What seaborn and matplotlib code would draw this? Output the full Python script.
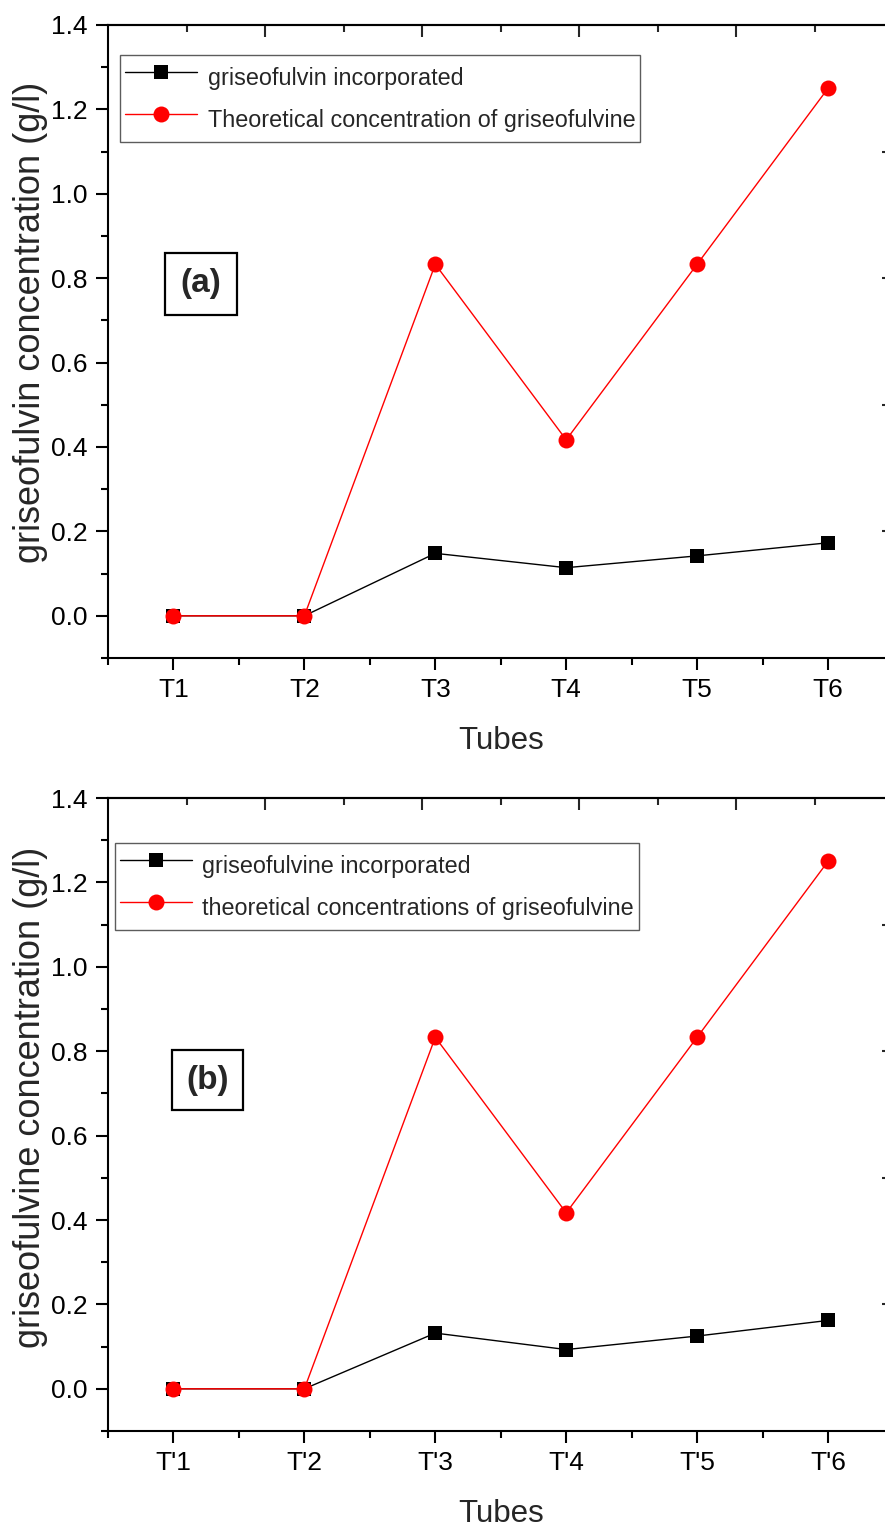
import numpy as np
import pandas as pd
import matplotlib
matplotlib.use("Agg")
import matplotlib.pyplot as plt
from matplotlib.ticker import MultipleLocator, FixedLocator, NullFormatter
from matplotlib.patches import Rectangle
import seaborn as sns

# ---------------- data ----------------
tubes_a = ["T1", "T2", "T3", "T4", "T5", "T6"]
incorporated_a = [0.0, 0.0, 0.148, 0.114, 0.142, 0.173]
theoretical_a = [0.0, 0.0, 0.833, 0.417, 0.833, 1.25]
labels_a = ["griseofulvin incorporated", "Theoretical concentration of griseofulvine"]
ylabel_a = "griseofulvin concentration (g/l)"
tag_a = "(a)"

tubes_b = ["T'1", "T'2", "T'3", "T'4", "T'5", "T'6"]
incorporated_b = [0.0, 0.0, 0.132, 0.093, 0.125, 0.162]
theoretical_b = [0.0, 0.0, 0.833, 0.417, 0.833, 1.25]
labels_b = ["griseofulvine incorporated", "theoretical concentrations of griseofulvine"]
ylabel_b = "griseofulvine concentration (g/l)"
tag_b = "(b)"

xlabel = "Tubes"

# ---------------- style ----------------
sns.set_theme(style="ticks")
plt.rcParams["font.family"] = ["Liberation Sans", "DejaVu Sans"]

W, H = 885, 1529
fig = plt.figure(figsize=(W / 100, H / 100), dpi=100)

LW_SPINE = 1.5
MAJ_LEN, MIN_LEN = 8.5, 5.0


def panel(rect, tubes, inc, theo, labels, ylabel, tag, tag_box, leg_anchor, ylab_y):
    ax = fig.add_axes(rect)
    x = np.arange(1, len(tubes) + 1)
    df = pd.DataFrame({"x": x, "inc": inc, "theo": theo})
    sns.lineplot(data=df, x="x", y="inc", ax=ax, color="black", lw=1.0,
                 marker="s", markersize=10, markeredgewidth=0,
                 markerfacecolor="black", label=labels[0])
    sns.lineplot(data=df, x="x", y="theo", ax=ax, color="red", lw=1.0,
                 marker="o", markersize=11.5, markeredgewidth=0,
                 markerfacecolor="red", label=labels[1])

    ax.set_xlim(0.5, len(tubes) + 0.5)
    ax.set_ylim(-0.1, 1.4)
    ax.set_xticks(x)
    ax.set_xticklabels(tubes)
    ax.xaxis.set_minor_locator(MultipleLocator(0.5))
    ax.yaxis.set_major_locator(MultipleLocator(0.2))
    ax.yaxis.set_minor_locator(MultipleLocator(0.1))
    ax.yaxis.set_major_formatter(matplotlib.ticker.FormatStrFormatter("%.1f"))

    for s in ax.spines.values():
        s.set_linewidth(LW_SPINE)
        s.set_color("black")
    ax.tick_params(which="both", direction="out", width=LW_SPINE,
                   top=False, right=False, labelsize=19, colors="black", pad=6)
    ax.tick_params(which="major", length=MAJ_LEN)
    ax.tick_params(which="minor", length=MIN_LEN)

    ax.set_xlabel(xlabel, fontsize=22.5, labelpad=17)
    ax.set_ylabel(ylabel, fontsize=26)
    ax.yaxis.set_label_coords(-0.077, ylab_y)

    # mirrored top / right axes with their own scale (inward ticks)
    x0, x1 = ax.get_xlim()
    y0, y1 = ax.get_ylim()
    sx = ax.secondary_xaxis("top", functions=(lambda v: (v - x0) / (x1 - x0) * 5,
                                              lambda u: u / 5 * (x1 - x0) + x0))
    sy = ax.secondary_yaxis("right", functions=(lambda v: (v - y0) / (y1 - y0) * 5,
                                                lambda u: u / 5 * (y1 - y0) + y0))
    for sa, axis in ((sx, sx.xaxis), (sy, sy.yaxis)):
        axis.set_major_locator(FixedLocator([1, 2, 3, 4]))
        axis.set_minor_locator(FixedLocator([0.5, 1.5, 2.5, 3.5, 4.5]))
        axis.set_major_formatter(NullFormatter())
        sa.tick_params(which="both", direction="in", width=LW_SPINE)
        sa.tick_params(which="major", length=MAJ_LEN)
        sa.tick_params(which="minor", length=MIN_LEN)
        for s in sa.spines.values():
            s.set_linewidth(LW_SPINE)

    leg = ax.legend(loc="upper left", bbox_to_anchor=leg_anchor,
                    bbox_transform=ax.transAxes, borderaxespad=0,
                    fontsize=16.8, frameon=True, fancybox=False,
                    handlelength=3.1, handletextpad=0.45, borderpad=0.2,
                    handleheight=2.0, labelspacing=0.25)
    leg.get_frame().set_edgecolor("#333333")
    leg.get_frame().set_linewidth(1.0)

    bx, by, bw, bh = tag_box
    ax.add_patch(Rectangle((bx, by), bw, bh, transform=ax.transAxes,
                           fill=False, edgecolor="black", lw=1.6, zorder=5))
    ax.text(bx + bw / 2, by + bh / 2, tag, transform=ax.transAxes,
            ha="center", va="center", fontsize=24, fontweight="bold")
    return ax


ax_w = 785.5 / W
ax_h = 633 / H
panel([108 / W, (H - 658) / H, ax_w, ax_h], tubes_a, incorporated_a, theoretical_a,
      labels_a, ylabel_a, tag_a, (0.0726, 0.542, 0.0917, 0.098), (0.0153, 0.9526), 0.53)
panel([108 / W, (H - 1431) / H, ax_w, ax_h], tubes_b, incorporated_b, theoretical_b,
      labels_b, ylabel_b, tag_b, (0.0815, 0.507, 0.0904, 0.095), (0.0089, 0.929), 0.527)

fig.savefig("out.png", dpi=100)
